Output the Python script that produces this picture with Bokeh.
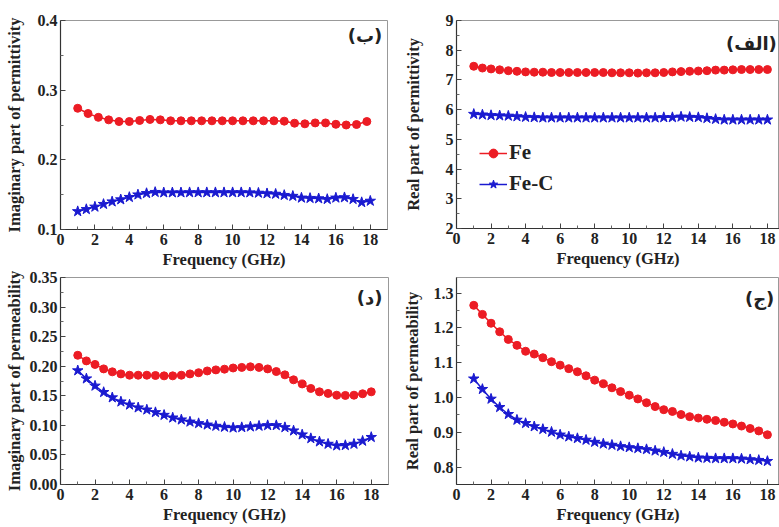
from bokeh.plotting import figure
from bokeh.layouts import column, row
from bokeh.models import FixedTicker, PrintfTickFormatter, Label, Legend, LegendItem, Range1d
from bokeh.embed import file_html
from bokeh.resources import INLINE

# ---------------- data ----------------
freq_06 = [1.0, 1.6, 2.2, 2.8, 3.4, 4.0, 4.6, 5.2, 5.8, 6.4, 7.0, 7.6, 8.2, 8.8, 9.4,
           10.0, 10.6, 11.2, 11.8, 12.4, 13.0, 13.6, 14.2, 14.8, 15.4, 16.0, 16.6, 17.2, 17.8]
freq_05 = [1.0, 1.5, 2.0, 2.5, 3.0, 3.5, 4.0, 4.5, 5.0, 5.5, 6.0, 6.5, 7.0, 7.5, 8.0, 8.5,
           9.0, 9.5, 10.0, 10.5, 11.0, 11.5, 12.0, 12.5, 13.0, 13.5, 14.0, 14.5, 15.0, 15.5,
           16.0, 16.5, 17.0, 17.5, 18.0]

# (ب) imaginary permittivity
imag_eps_fe = [0.274, 0.2665, 0.261, 0.2574, 0.255, 0.255, 0.2565, 0.258, 0.2574, 0.256,
               0.256, 0.256, 0.256, 0.256, 0.256, 0.256, 0.256, 0.256, 0.256, 0.256,
               0.2555, 0.2526, 0.2517, 0.253, 0.253, 0.251, 0.250, 0.2507, 0.255]
imag_eps_fec = [0.126, 0.129, 0.1325, 0.1364, 0.140, 0.143, 0.1464, 0.150, 0.152, 0.1536,
                0.153, 0.153, 0.153, 0.1532, 0.1532, 0.1532, 0.1532, 0.1532, 0.1532, 0.1532,
                0.153, 0.1525, 0.1517, 0.151, 0.1493, 0.148, 0.1455, 0.145, 0.1445, 0.1435,
                0.1455, 0.146, 0.1435, 0.139, 0.141]
# (الف) real permittivity
real_eps_fe = [7.46, 7.40, 7.37, 7.34, 7.31, 7.29, 7.27, 7.26, 7.26, 7.25,
               7.25, 7.25, 7.25, 7.25, 7.25, 7.25, 7.24, 7.24, 7.24, 7.23,
               7.24, 7.24, 7.25, 7.27, 7.28, 7.29, 7.30, 7.31, 7.33, 7.33,
               7.34, 7.35, 7.35, 7.35, 7.35]
real_eps_fec = [5.85, 5.83, 5.81, 5.80, 5.79, 5.77, 5.75, 5.74, 5.73, 5.73,
                5.73, 5.73, 5.73, 5.73, 5.73, 5.73, 5.73, 5.73, 5.73, 5.73,
                5.73, 5.73, 5.74, 5.74, 5.76, 5.75, 5.74, 5.71, 5.68, 5.66,
                5.66, 5.66, 5.66, 5.66, 5.66]
# (د) imaginary permeability
imag_mu_fe = [0.2185, 0.209, 0.203, 0.1955, 0.1905, 0.187, 0.1848, 0.1848, 0.1848, 0.1843,
              0.1837, 0.1837, 0.1848, 0.187, 0.189, 0.192, 0.1938, 0.195, 0.197, 0.198,
              0.199, 0.198, 0.1955, 0.191, 0.1854, 0.177, 0.170, 0.1624, 0.1567, 0.154,
              0.151, 0.1506, 0.151, 0.1534, 0.1567]
imag_mu_fec = [0.1927, 0.179, 0.1668, 0.156, 0.147, 0.140, 0.1348, 0.130, 0.1264, 0.122,
               0.1174, 0.1129, 0.1096, 0.106, 0.1034, 0.101, 0.0989, 0.0972, 0.096, 0.0966,
               0.0978, 0.099, 0.100, 0.100, 0.0966, 0.091, 0.0843, 0.078, 0.0725, 0.0685,
               0.0657, 0.0663, 0.0685, 0.0736, 0.080]
# (ج) real permeability
real_mu_fe = [1.265, 1.239, 1.2135, 1.189, 1.167, 1.15, 1.133, 1.125, 1.1144, 1.103,
              1.093, 1.083, 1.074, 1.0625, 1.05, 1.0394, 1.028, 1.017, 1.0067, 0.996,
              0.985, 0.974, 0.965, 0.96, 0.951, 0.945, 0.941, 0.9375, 0.934, 0.929,
              0.924, 0.918, 0.911, 0.904, 0.893]
real_mu_fec = [1.054, 1.024, 0.996, 0.972, 0.952, 0.9356, 0.926, 0.9167, 0.909, 0.901,
               0.893, 0.8875, 0.8827, 0.878, 0.872, 0.867, 0.8635, 0.8596, 0.8567, 0.854,
               0.851, 0.847, 0.843, 0.8375, 0.8327, 0.83, 0.827, 0.826, 0.825, 0.825,
               0.825, 0.824, 0.822, 0.820, 0.817]

x_ticks = [0, 2, 4, 6, 8, 10, 12, 14, 16, 18]
x_minor = [1, 3, 5, 7, 9, 11, 13, 15, 17]

RED = "#ec1c24"
BLUE = "#1a1ad0"
SERIF = "Liberation Serif"
AR_FONT = "DejaVu Sans"


def make_fig(frame_w, frame_h, mb_left, mb_right, mb_top, mb_bottom, xmax, yr, yticks, yminor,
             yfmt, ylabel, ylab_standoff):
    p = figure(frame_width=frame_w, frame_height=frame_h, output_backend="svg",
               toolbar_location=None, x_range=Range1d(0, xmax), y_range=Range1d(*yr),
               min_border_left=mb_left, min_border_right=mb_right,
               min_border_top=mb_top, min_border_bottom=mb_bottom)
    p.xgrid.visible = False
    p.ygrid.visible = False
    p.outline_line_color = "#999999"
    p.outline_line_width = 1
    p.background_fill_color = "white"
    p.border_fill_color = "white"
    p.xaxis.ticker = FixedTicker(ticks=x_ticks, minor_ticks=x_minor)
    p.yaxis.ticker = FixedTicker(ticks=yticks, minor_ticks=yminor)
    p.yaxis.formatter = PrintfTickFormatter(format=yfmt)
    p.xaxis.axis_label = "Frequency (GHz)"
    p.yaxis.axis_label = ylabel
    for ax in (p.xaxis[0], p.yaxis[0]):
        ax.major_tick_in = 5
        ax.major_tick_out = 0
        ax.minor_tick_in = 3
        ax.minor_tick_out = 0
        ax.axis_line_color = "#333333"
        ax.axis_line_width = 1.2
        ax.major_tick_line_color = "#444444"
        ax.minor_tick_line_color = "#666666"
        ax.major_label_text_font = SERIF
        ax.major_label_text_font_style = "bold"
        ax.major_label_text_font_size = "16px"
        ax.major_label_text_color = "#222222"
        ax.axis_label_text_font = SERIF
        ax.axis_label_text_font_style = "bold"
        ax.axis_label_text_font_size = "16.5px"
        ax.axis_label_text_color = "#222222"
    p.xaxis.major_label_standoff = 4
    p.yaxis.major_label_standoff = 3
    p.xaxis.axis_label_standoff = 2
    p.yaxis.axis_label_standoff = ylab_standoff
    return p


def add_series(p, x_fe, y_fe, x_fec, y_fec):
    l1 = p.line(x_fe, y_fe, line_color=RED, line_width=1.5)
    s1 = p.scatter(x_fe, y_fe, marker="circle", size=8, fill_color=RED, line_color=RED)
    l2 = p.line(x_fec, y_fec, line_color=BLUE, line_width=1.5)
    s2 = p.scatter(x_fec, y_fec, marker="star", size=11, fill_color=BLUE, line_color=BLUE)
    return [l1, s1], [l2, s2]


def add_tag(p, text, x, y, align):
    p.add_layout(Label(x=x, y=y, text=text, text_align=align, text_baseline="middle",
                       text_font=AR_FONT, text_font_style="bold", text_font_size="18px",
                       text_color="#222222"))


# top-left (ب)
p1 = make_fig(327, 209, 60, 8, 18, 43, 19, (0.1, 0.4), [0.1, 0.2, 0.3, 0.4], [0.15, 0.25, 0.35],
              "%.1f", "Imaginary part of permittivity", 11)
add_series(p1, freq_06, imag_eps_fe, freq_05, imag_eps_fec)
add_tag(p1, "(ب)", 18.7, 0.378, "right")

# top-right (الف)
p2 = make_fig(323, 208, 61, 0, 20, 42, 18.7, (2, 9), [2, 3, 4, 5, 6, 7, 8, 9],
              [2.5, 3.5, 4.5, 5.5, 6.5, 7.5, 8.5], "%d", "Real part of permittivity", 20)
fe_r, fec_r = add_series(p2, freq_05, real_eps_fe, freq_05, real_eps_fec)
add_tag(p2, "(الف)", 15.6, 8.24, "left")
legend = Legend(items=[LegendItem(label="Fe", renderers=fe_r), LegendItem(label="Fe-C", renderers=fec_r)],
                location=(21, 30), label_text_font=SERIF, label_text_font_style="bold",
                label_text_font_size="21px", label_text_color="#222222",
                glyph_width=28, glyph_height=22, spacing=6, padding=2, label_standoff=2,
                background_fill_alpha=0, border_line_alpha=0)
p2.add_layout(legend)

# bottom-left (د)
p3 = make_fig(328, 207, 60, 7, 7, 43, 19, (0.0, 0.35),
              [0.0, 0.05, 0.10, 0.15, 0.20, 0.25, 0.30, 0.35],
              [0.025, 0.075, 0.125, 0.175, 0.225, 0.275, 0.325], "%.2f",
              "Imaginary part of permeability", 3)
add_series(p3, freq_05, imag_mu_fe, freq_05, imag_mu_fec)
add_tag(p3, "(د)", 18.65, 0.316, "right")

# bottom-right (ج)
p4 = make_fig(323, 207, 61, 0, 7, 43, 18.7, (0.75, 1.345),
              [0.8, 0.9, 1.0, 1.1, 1.2, 1.3], [0.85, 0.95, 1.05, 1.15, 1.25], "%.1f",
              "Real part of permeability", 9)
add_series(p4, freq_05, real_mu_fe, freq_05, real_mu_fec)
add_tag(p4, "(ج)", 18.4, 1.285, "right")

layout = column(row(p1, p2), row(p3, p4))
open("out.html", "w").write(file_html(layout, INLINE))
